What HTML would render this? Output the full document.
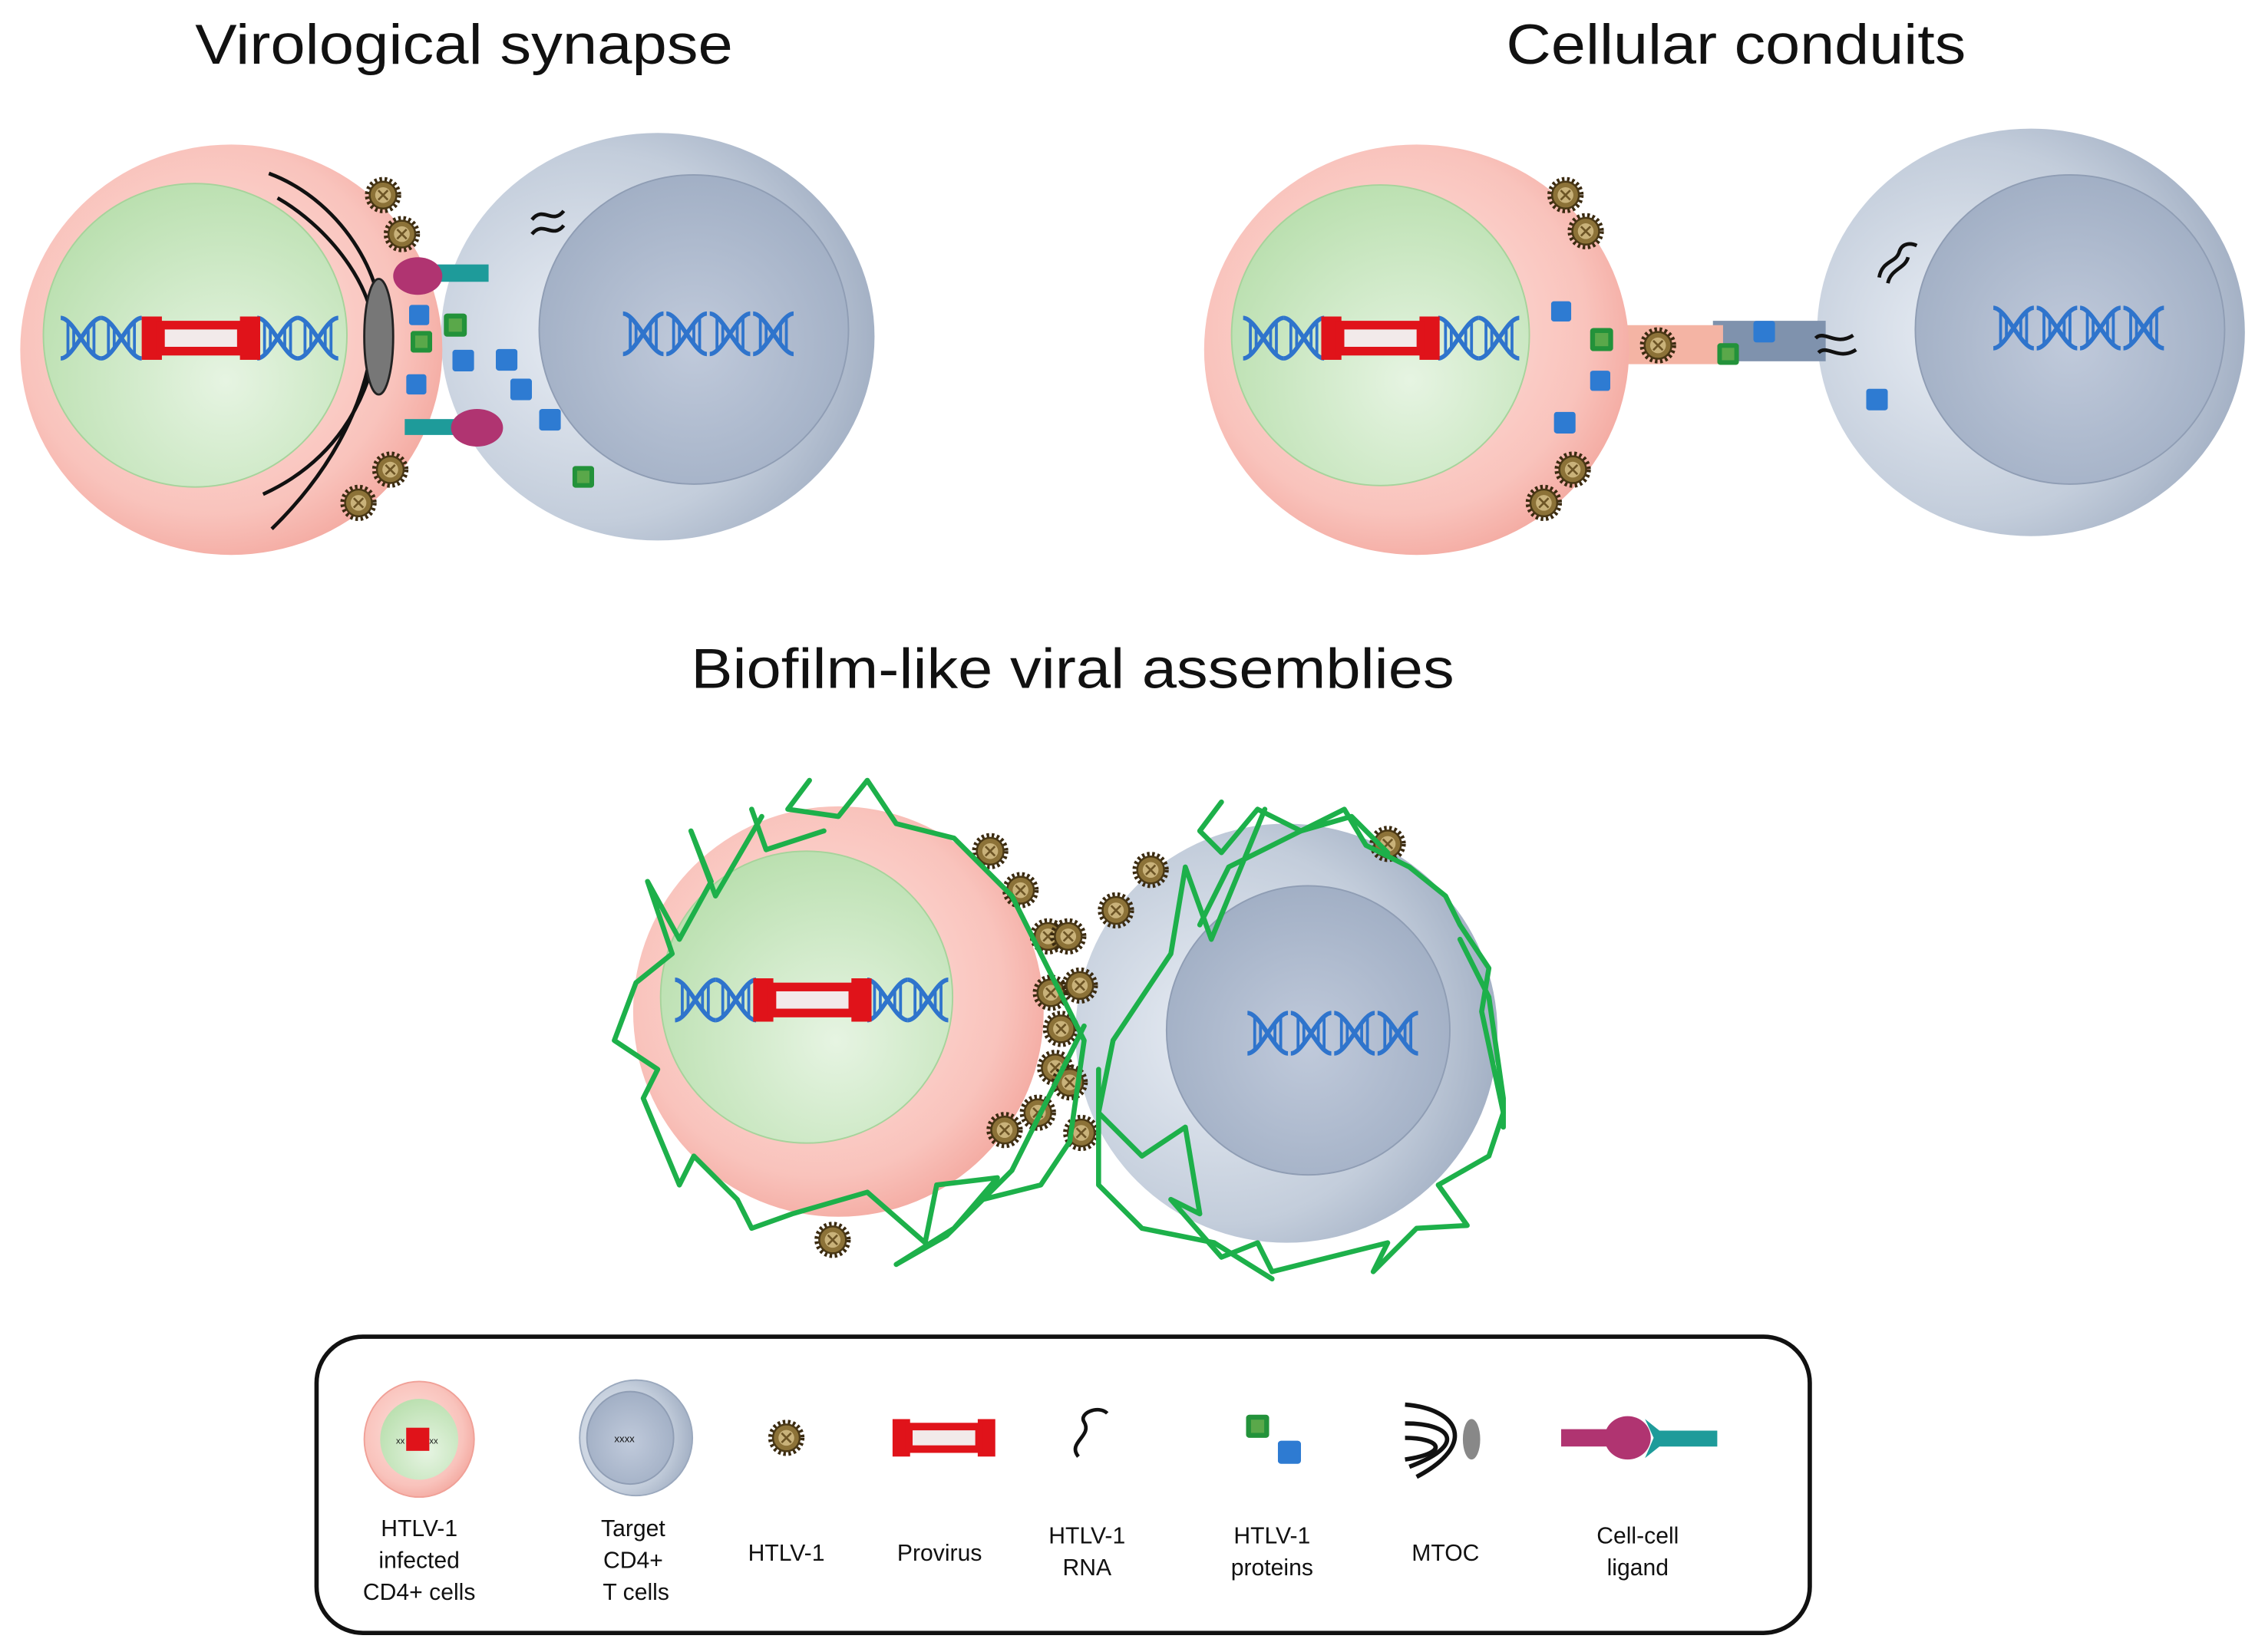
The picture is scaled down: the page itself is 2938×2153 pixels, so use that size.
<!DOCTYPE html>
<html><head><meta charset="utf-8"><style>
html,body{margin:0;padding:0;background:#fff;}
svg{display:block}
text{font-family:"Liberation Sans",Arial,sans-serif;fill:#111}
</style></head><body>
<svg width="2938" height="2153" viewBox="0 0 1560 1143.2" preserveAspectRatio="none" xmlns="http://www.w3.org/2000/svg">
<defs>
<radialGradient id="pk" cx="0.45" cy="0.45" r="0.6"><stop offset="0" stop-color="#fde4e0"/><stop offset="0.75" stop-color="#f9c3bc"/><stop offset="1" stop-color="#f3a79e"/></radialGradient>
<radialGradient id="gn" cx="0.6" cy="0.65" r="0.7"><stop offset="0" stop-color="#e6f4e2"/><stop offset="1" stop-color="#b9dfae"/></radialGradient>
<radialGradient id="bl" cx="0.35" cy="0.5" r="0.65"><stop offset="0" stop-color="#e9eef5"/><stop offset="0.7" stop-color="#c3cddb"/><stop offset="1" stop-color="#a4b1c5"/></radialGradient>
<radialGradient id="bn" cx="0.5" cy="0.55" r="0.6"><stop offset="0" stop-color="#c0cadb"/><stop offset="1" stop-color="#9fadc3"/></radialGradient>
<symbol id="dna" viewBox="0 0 28 30" overflow="visible">
<g fill="none" stroke="#2f74cc" stroke-width="3">
<path d="M0,1 C9,1 19,29 28,29"/><path d="M0,29 C9,29 19,1 28,1"/>
<path d="M5,4 V26 M9,8 V22 M19,8 V22 M23,4 V26" stroke-width="2"/></g></symbol>
<symbol id="vir" viewBox="-11 -11 22 22" overflow="visible">
<circle r="10" fill="none" stroke="#3a2a10" stroke-width="3" stroke-dasharray="1.6 1.6"/>
<circle r="8.5" fill="#8c7238" stroke="#4a3815" stroke-width="1.2"/>
<circle r="5" fill="#c9b27a"/><path d="M-3,-3 L3,3 M3,-3 L-3,3" stroke="#6d5526" stroke-width="1.3"/></symbol>
<symbol id="sq" viewBox="0 0 14 14"><rect width="14" height="14" rx="2" fill="#2e7bd2"/></symbol>
<symbol id="gq" viewBox="0 0 14 14"><rect width="14" height="14" rx="2" fill="#23923a"/><rect x="3" y="3" width="8" height="8" fill="#5aa84a"/></symbol>
<symbol id="prov" viewBox="0 0 82 30"><rect x="0" y="0" width="14" height="30" fill="#e0131a"/><rect x="68" y="0" width="14" height="30" fill="#e0131a"/><rect x="10" y="3" width="62" height="24" fill="#e0131a"/><rect x="16" y="9" width="50" height="12" fill="#f2eaea"/></symbol>
</defs>

<!-- titles -->
<text x="135" y="44" font-size="39" textLength="372" lengthAdjust="spacingAndGlyphs">Virological  synapse</text>
<text x="1042" y="44" font-size="39" textLength="318" lengthAdjust="spacingAndGlyphs">Cellular conduits</text>
<text x="478" y="476" font-size="39" textLength="528" lengthAdjust="spacingAndGlyphs">Biofilm-like viral assemblies</text>

<!-- ===== Virological synapse ===== -->
<ellipse cx="455" cy="233" rx="150" ry="141" fill="url(#bl)"/>
<ellipse cx="480" cy="228" rx="107" ry="107" fill="url(#bn)" stroke="#8f9db4" stroke-width="1"/>
<ellipse cx="160" cy="242" rx="146" ry="142" fill="url(#pk)"/>
<ellipse cx="135" cy="232" rx="105" ry="105" fill="url(#gn)" stroke="#a6d39b" stroke-width="1"/>
<use href="#dna" x="42" y="219" width="28" height="30"/><use href="#dna" x="70" y="219" width="28" height="30"/>
<use href="#dna" x="178" y="219" width="28" height="30"/><use href="#dna" x="206" y="219" width="28" height="30"/>
<use href="#prov" x="98" y="219" width="82" height="30"/>
<use href="#dna" x="430" y="216" width="30" height="30"/><use href="#dna" x="460" y="216" width="30" height="30"/><use href="#dna" x="490" y="216" width="30" height="30"/><use href="#dna" x="520" y="216" width="30" height="30"/>
<g fill="none" stroke="#111" stroke-width="2.5">
<path d="M186,120 C240,140 270,200 262,232 C255,280 230,320 182,342"/>
<path d="M192,137 C232,160 262,205 258,235 C252,285 225,330 188,366"/>
</g>
<ellipse cx="262" cy="233" rx="10" ry="40" fill="#777" stroke="#222" stroke-width="1.5"/>
<use href="#vir" x="253" y="123" width="24" height="24"/><use href="#vir" x="266" y="150" width="24" height="24"/>
<use href="#vir" x="258" y="313" width="24" height="24"/><use href="#vir" x="236" y="336" width="24" height="24"/>
<rect x="300" y="183" width="38" height="12" fill="#1e9b9a"/>
<ellipse cx="289" cy="191" rx="17" ry="13" fill="#b03471"/>
<rect x="280" y="290" width="38" height="11" fill="#1e9b9a"/>
<ellipse cx="330" cy="296" rx="18" ry="13" fill="#b03471"/>
<use href="#sq" x="283" y="210" width="14" height="16"/><use href="#sq" x="281" y="258" width="14" height="16"/>
<use href="#sq" x="313" y="242" width="15" height="15"/><use href="#sq" x="343" y="241" width="15" height="16"/>
<use href="#sq" x="353" y="262" width="15" height="15"/><use href="#sq" x="373" y="283" width="15" height="15"/>
<use href="#gq" x="307" y="211" width="16" height="28"/><use href="#gq" x="284" y="229" width="15" height="15"/>
<use href="#gq" x="396" y="322" width="15" height="16"/>
<g fill="none" stroke="#111" stroke-width="2.5"><path d="M358,152 C366,142 372,156 380,146 M358,162 C366,152 372,166 380,156" transform="translate(10,0)"/></g>

<!-- ===== Cellular conduits ===== -->
<ellipse cx="1405" cy="230" rx="148" ry="141" fill="url(#bl)"/>
<ellipse cx="1432" cy="228" rx="107" ry="107" fill="url(#bn)" stroke="#8f9db4" stroke-width="1"/>
<rect x="1185" y="222" width="78" height="28" fill="#7f92ad"/>
<rect x="1118" y="225" width="74" height="27" fill="#f4b4a4"/>
<ellipse cx="980" cy="242" rx="147" ry="142" fill="url(#pk)"/>
<ellipse cx="955" cy="232" rx="103" ry="104" fill="url(#gn)" stroke="#a6d39b" stroke-width="1"/>
<use href="#dna" x="860" y="219" width="28" height="30"/><use href="#dna" x="888" y="219" width="28" height="30"/>
<use href="#dna" x="995" y="219" width="28" height="30"/><use href="#dna" x="1023" y="219" width="28" height="30"/>
<use href="#prov" x="914" y="219" width="82" height="30"/>
<use href="#dna" x="1378" y="212" width="30" height="30"/><use href="#dna" x="1408" y="212" width="30" height="30"/><use href="#dna" x="1438" y="212" width="30" height="30"/><use href="#dna" x="1468" y="212" width="30" height="30"/>
<use href="#vir" x="1071" y="123" width="24" height="24"/><use href="#vir" x="1085" y="148" width="24" height="24"/>
<use href="#vir" x="1135" y="227" width="24" height="24"/>
<use href="#vir" x="1076" y="313" width="24" height="24"/><use href="#vir" x="1056" y="336" width="24" height="24"/>
<use href="#sq" x="1073" y="208" width="14" height="15"/><use href="#sq" x="1100" y="256" width="14" height="15"/>
<use href="#sq" x="1075" y="285" width="15" height="15"/><use href="#sq" x="1213" y="222" width="15" height="15"/>
<use href="#sq" x="1291" y="269" width="15" height="15"/>
<use href="#gq" x="1100" y="227" width="16" height="16"/><use href="#gq" x="1188" y="237" width="15" height="16"/>
<g fill="none" stroke="#111" stroke-width="2.5">
<path d="M1300,192 C1302,180 1312,182 1314,174 C1316,168 1322,168 1326,170 M1306,196 C1308,186 1318,186 1320,178"/>
<path d="M1256,234 C1262,228 1270,240 1282,232 M1258,244 C1264,238 1272,250 1284,242"/>
</g>

<!-- ===== Biofilm ===== -->
<ellipse cx="890" cy="715" rx="146" ry="145" fill="url(#bl)"/>
<ellipse cx="905" cy="713" rx="98" ry="100" fill="url(#bn)" stroke="#8f9db4" stroke-width="1"/>
<ellipse cx="580" cy="700" rx="142" ry="142" fill="url(#pk)"/>
<ellipse cx="558" cy="690" rx="101" ry="101" fill="url(#gn)" stroke="#a6d39b" stroke-width="1"/>
<use href="#dna" x="467" y="677" width="28" height="30"/><use href="#dna" x="495" y="677" width="28" height="30"/>
<use href="#dna" x="600" y="677" width="28" height="30"/><use href="#dna" x="628" y="677" width="28" height="30"/>
<use href="#prov" x="521" y="677" width="82" height="30"/>
<use href="#dna" x="862" y="700" width="30" height="30"/><use href="#dna" x="892" y="700" width="30" height="30"/><use href="#dna" x="922" y="700" width="30" height="30"/><use href="#dna" x="952" y="700" width="30" height="30"/>
<g>
<use href="#vir" x="673" y="577" width="24" height="24"/><use href="#vir" x="694" y="604" width="24" height="24"/>
<use href="#vir" x="713" y="636" width="24" height="24"/><use href="#vir" x="727" y="636" width="24" height="24"/>
<use href="#vir" x="715" y="675" width="24" height="24"/><use href="#vir" x="735" y="670" width="24" height="24"/>
<use href="#vir" x="722" y="700" width="24" height="24"/><use href="#vir" x="718" y="727" width="24" height="24"/>
<use href="#vir" x="728" y="737" width="24" height="24"/><use href="#vir" x="706" y="758" width="24" height="24"/>
<use href="#vir" x="683" y="770" width="24" height="24"/><use href="#vir" x="736" y="772" width="24" height="24"/>
<use href="#vir" x="564" y="846" width="24" height="24"/><use href="#vir" x="784" y="590" width="24" height="24"/>
<use href="#vir" x="760" y="618" width="24" height="24"/><use href="#vir" x="948" y="572" width="24" height="24"/>
</g>
<g fill="none" stroke="#1db04a" stroke-width="3.5" stroke-linejoin="round" stroke-linecap="round">
<path d="M527,565 L495,620 L478,575 L492,610 L470,650 L448,610 L465,660 L440,680 L425,720 L455,740 L445,760 L470,820 L480,800 L510,830 L520,850 L548,840 L600,825 L640,860 L648,820 L690,815 L660,850 L620,875 L655,855 L700,810 L750,710"/>
<path d="M875,560 L838,650 L820,600 L810,660 L770,720 L760,770 L790,800 L820,780 L830,840 L810,830 L845,870 L870,860 L880,880 L920,870 L960,860 L950,880 L980,850 L1015,848 L995,820 L1030,800 L1040,770 L1025,700 L1030,670 L1010,640 L1000,620 L975,600 L945,585 L930,560 L890,580 L850,600 L830,640"/>
<path d="M560,540 L545,560 L580,565 L600,540 L620,570 L660,580 L700,620 L720,660"/>
<path d="M720,660 L750,720 L740,790 L720,820 L680,830"/>
<path d="M760,740 L760,820 L790,850 L840,860 L880,885"/>
<path d="M845,555 L830,575 L845,590 L870,560 L900,575 L935,565 L960,590"/>
<path d="M1010,650 L1030,690 L1040,760 L1040,780"/>
<path d="M570,575 L530,588 L520,560"/>
</g>

<!-- ===== Legend ===== -->
<rect x="219" y="925" width="1033" height="205" rx="32" fill="#fff" stroke="#111" stroke-width="3"/>
<ellipse cx="290" cy="996" rx="38" ry="40" fill="url(#pk)" stroke="#f0a097" stroke-width="1"/>
<ellipse cx="290" cy="996" rx="27" ry="28" fill="url(#gn)"/>
<rect x="281" y="988" width="16" height="16" fill="#e0131a"/>
<text x="274" y="999" font-size="6" fill="#2f74cc">xx</text><text x="297" y="999" font-size="6" fill="#2f74cc">xx</text>
<ellipse cx="440" cy="995" rx="39" ry="40" fill="url(#bl)" stroke="#9aa8bd" stroke-width="1"/>
<ellipse cx="436" cy="995" rx="30" ry="32" fill="url(#bn)" stroke="#8f9db4" stroke-width="1"/>
<text x="425" y="998" font-size="7" fill="#2f74cc">xxxx</text>
<use href="#vir" x="532" y="983" width="24" height="24"/>
<use href="#prov" x="614" y="982" width="78" height="26"/>
<path d="M746,1008 C738,998 756,994 750,984 C746,978 760,972 766,978" fill="none" stroke="#111" stroke-width="2.5"/>
<use href="#gq" x="862" y="977" width="16" height="20"/><use href="#sq" x="884" y="996" width="16" height="18"/>
<g fill="none" stroke="#111" stroke-width="3">
<path d="M972,972 C1010,975 1022,1000 980,1022"/><path d="M972,985 C1005,985 1015,1000 975,1015"/><path d="M972,995 C995,995 1005,1005 972,1010"/></g>
<ellipse cx="1018" cy="996" rx="6" ry="14" fill="#888"/>
<rect x="1080" y="989" width="40" height="12" fill="#b03471"/>
<ellipse cx="1126" cy="995" rx="16" ry="15" fill="#b03471"/>
<path d="M1138,982 L1148,990 H1188 V1001 H1148 L1138,1009 L1144,995 Z" fill="#1e9b9a"/>
<g font-size="16" text-anchor="middle">
<text x="290" y="1063">HTLV-1</text><text x="290" y="1085">infected</text><text x="290" y="1107">CD4+ cells</text>
<text x="438" y="1063">Target</text><text x="438" y="1085">CD4+</text><text x="440" y="1107">T cells</text>
<text x="544" y="1080">HTLV-1</text>
<text x="650" y="1080">Provirus</text>
<text x="752" y="1068">HTLV-1</text><text x="752" y="1090">RNA</text>
<text x="880" y="1068">HTLV-1</text><text x="880" y="1090">proteins</text>
<text x="1000" y="1080">MTOC</text>
<text x="1133" y="1068">Cell-cell</text><text x="1133" y="1090">ligand</text>
</g>
</svg>
</body></html>
